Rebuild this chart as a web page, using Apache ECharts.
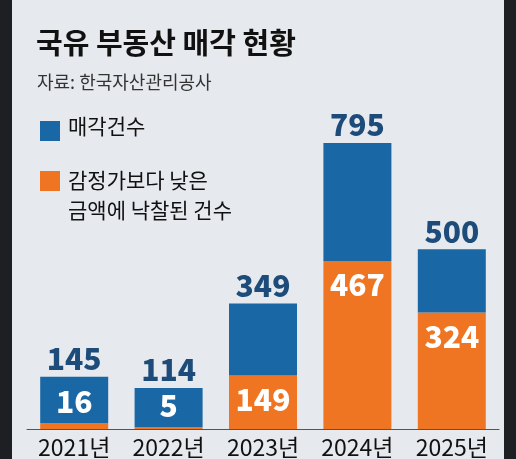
<!DOCTYPE html>
<html><head><meta charset="utf-8">
<script src="https://cdn.jsdelivr.net/npm/echarts@6/dist/echarts.min.js"></script>
<style>html,body{margin:0;padding:0;background:#1e1f22}#c{position:absolute;left:12px;top:0;width:492px;height:459px;background:#e6e9ee}</style>
</head><body><div id="c"></div>
<script>
const categories = ['2021년','2022년','2023년','2024년','2025년'];
const totals = [145,114,349,795,500];
const below = [16,5,149,467,324];
const chart = echarts.init(document.getElementById('c'));
const FONT = '"Noto Sans CJK KR", "Noto Sans", sans-serif';
const NARROW = '"Liberation Sans Narrow", "Noto Sans CJK KR", sans-serif';
const BLUE = '#1a67a5', ORANGE = '#f07522';
const rest = totals.map((t,i)=>t-below[i]);
chart.setOption({
  animation:false,
  textStyle:{fontFamily:FONT},
  grid:{left:15,right:5,top:143,bottom:30},
  xAxis:{type:'category',data:categories,axisTick:{show:false},
    axisLine:{lineStyle:{color:'#555',width:1}},
    axisLabel:{color:'#111',fontSize:23,margin:7,fontFamily:NARROW}},
  yAxis:{type:'value',min:0,max:795,show:false,splitLine:{show:false}},
  series:[
    {type:'bar',stack:'a',data:below.map((v,i)=>{
      const small = v<50;
      return {value:v,label:{show:true,position:small?'top':'insideTop',distance:small?7:9,
        color:'#fff',fontSize:30,fontWeight:900,formatter:String(v)}};
    }),barWidth:68,itemStyle:{color:ORANGE}},
    {type:'bar',stack:'a',data:rest,barWidth:68,itemStyle:{color:BLUE},
      label:{show:true,position:'top',distance:3,color:'#1d4c7a',fontSize:30,fontWeight:900,
        formatter:p=>String(totals[p.dataIndex])}}
  ],
  graphic:[
    {type:'text',left:24,top:28,style:{text:'국유 부동산 매각 현황',font:'bold 29px '+FONT,fill:'#111'}},
    {type:'text',left:25,top:73,style:{text:'자료: 한국자산관리공사',font:'18px '+FONT,fill:'#333'}},
    {type:'rect',shape:{x:28,y:121,width:20,height:20},style:{fill:BLUE}},
    {type:'text',left:56,top:116,style:{text:'매각건수',font:'21px '+FONT,fill:'#111'}},
    {type:'rect',shape:{x:28,y:171,width:20,height:20},style:{fill:ORANGE}},
    {type:'text',left:56,top:165,style:{text:'감정가보다 낮은\n금액에 낙찰된 건수',font:'21px '+FONT,lineHeight:30,fill:'#111'}}
  ]
});
</script></body></html>
